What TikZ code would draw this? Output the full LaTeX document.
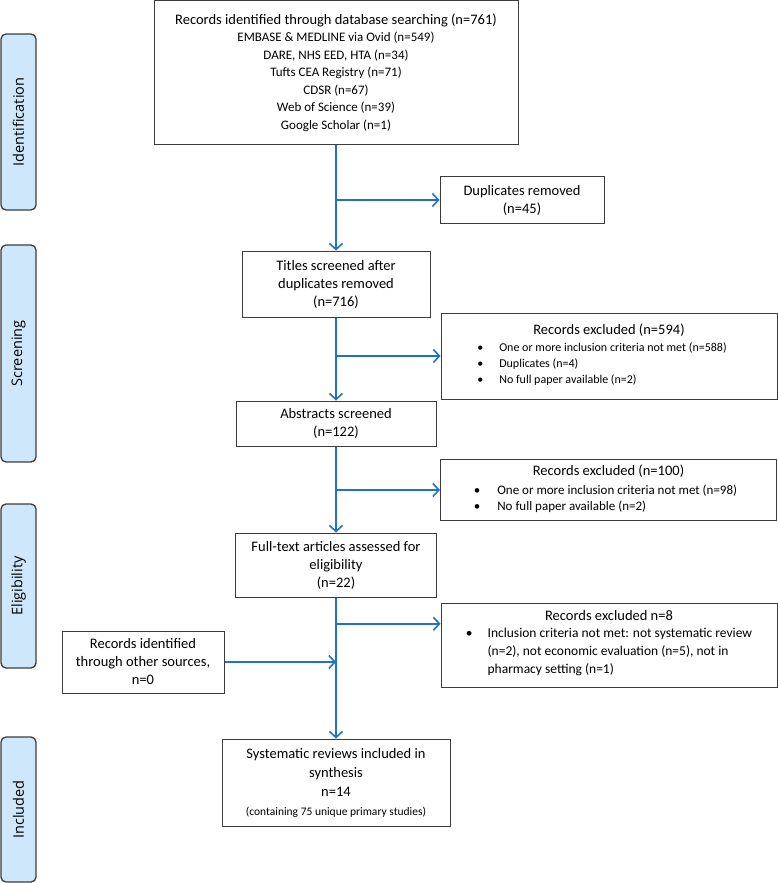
\documentclass[tikz,border=0pt]{standalone}
\usepackage{fontspec}
\setmainfont{Carlito}
\newfontfamily\tabfont{Open Sans}
\usetikzlibrary{arrows.meta,calc,positioning}
\definecolor{flowblue}{RGB}{31,115,196}
\definecolor{tabfill}{RGB}{206,231,250}
\definecolor{edgegray}{RGB}{60,60,60}

\begin{document}
\begin{tikzpicture}[x=1pt,y=-1pt,inner sep=0pt,>={Straight Barb[length=6pt,width=13pt]},
  box/.style={draw=edgegray,line width=1pt,fill=white,align=center,font=\fontsize{14.5}{18}\selectfont},
  tab/.style={draw=edgegray,line width=1.3pt,fill=tabfill,rounded corners=5pt,rotate=90,minimum height=35pt,font=\tabfont\fontsize{14.5}{17}\selectfont},
  flow/.style={draw=flowblue,line width=1.6pt,->}]
\useasboundingbox (0,0) rectangle (778,883);
% stage tabs
\node [tab,minimum width=176pt] (tabid)   at (18.5,122)   {Identification};
\node [tab,minimum width=217pt] (tabscr)  at (18.5,353.5) {Screening};
\node [tab,minimum width=164pt] (tabelig) at (18.5,586)   {Eligibility};
\node [tab,minimum width=145pt] (tabincl) at (18.5,809.5) {Included};
% main column
\node [box,minimum width=364pt,minimum height=143pt,font=\fontsize{13}{17.5}\selectfont] (dbsrch) at (336,72.5)
  {{\fontsize{14.5}{17.5}\selectfont Records identified through database searching (n=761)}\\
   EMBASE \& MEDLINE via Ovid (n=549)\\ DARE, NHS EED, HTA (n=34)\\ Tufts CEA Registry (n=71)\\
   CDSR (n=67)\\ Web of Science (n=39)\\ Google Scholar (n=1)};
\node [box,minimum width=188pt,minimum height=66pt] (titles) at (336,284) {Titles screened after\\ duplicates removed\\ (n=716)};
\node [box,minimum width=200pt,minimum height=45pt] (abstr) at (336,423.5) {Abstracts screened\\ (n=122)};
\node [box,minimum width=201pt,minimum height=64pt] (fulltxt) at (336,565) {Full-text articles assessed for\\ eligibility\\ (n=22)};
\node [box,minimum width=228pt,minimum height=87pt,font=\fontsize{14.5}{19}\selectfont] (incl) at (336,782.5)
  {Systematic reviews included in\\ synthesis\\ n=14\\ {\fontsize{11.5}{17}\selectfont (containing 75 unique primary studies)}};
% side boxes
\node [box,minimum width=164pt,minimum height=47pt] (dupl) at (522,200) {Duplicates removed\\ (n=45)};
\node [box,minimum width=336pt,minimum height=86pt,font=\fontsize{14.5}{17}\selectfont] (excla) at (609,356)
  {Records excluded (n=594)\\
   {\fontsize{12}{16}\selectfont\begin{tabular}[t]{@{}l@{\hspace{16pt}}l@{\hspace{14pt}}}
   \textbullet & One or more inclusion criteria not met (n=588)\\
   \textbullet & Duplicates (n=4)\\
   \textbullet & No full paper available (n=2)\end{tabular}}};
\node [box,minimum width=336pt,minimum height=61pt,font=\fontsize{14.5}{19}\selectfont] (exclb) at (608.5,490)
  {Records excluded (n=100)\\
   {\fontsize{13}{16}\selectfont\begin{tabular}[t]{@{}l@{\hspace{17pt}}l@{\hspace{6pt}}}
   \textbullet & One or more inclusion criteria not met (n=98)\\
   \textbullet & No full paper available (n=2)\end{tabular}}};
\node [box,minimum width=336pt,minimum height=84pt,font=\fontsize{14.5}{17}\selectfont] (exclc) at (609,645)
  {Records excluded n=8\\
   {\fontsize{13.5}{18}\selectfont\begin{tabular}[t]{@{}l@{\hspace{15pt}}l@{}}
   \textbullet & Inclusion criteria not met: not systematic review\\
   & (n=2), not economic evaluation (n=5), not in\\
   & pharmacy setting (n=1)\end{tabular}}};
\node [box,minimum width=162pt,minimum height=62pt] (othersrc) at (143,662) {Records identified\\ through other sources,\\ n=0};
% connectors
\draw [flow] (dbsrch.south) -- (titles.north);
\draw [flow] (dbsrch.south |- dupl.west) -- (dupl.west);
\draw [flow] (titles.south) -- (abstr.north);
\draw [flow] (titles.south |- excla.west) -- (excla.west);
\draw [flow] (abstr.south) -- (fulltxt.north);
\draw [flow] (abstr.south |- exclb.west) -- (exclb.west);
\draw [flow] (fulltxt.south) -- (incl.north);
\coordinate (exclcin) at ($(exclc.north west)!.25!(exclc.south west)$);
\draw [flow] (exclcin -| fulltxt.south) -- (exclcin);
\draw [flow] (othersrc.east) -- (othersrc.east -| incl.north);
\end{tikzpicture}
\end{document}
